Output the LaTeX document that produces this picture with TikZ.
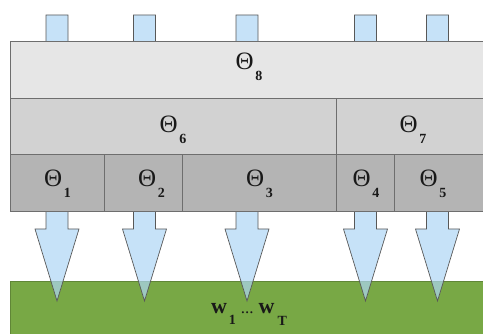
\documentclass[tikz,border=0pt]{standalone}
\usepackage{fontspec}
\setmainfont{Liberation Serif}
\usetikzlibrary{positioning}
\definecolor{lvA}{RGB}{230,230,230}
\definecolor{lvB}{RGB}{210,210,210}
\definecolor{lvC}{RGB}{180,180,180}
\definecolor{edgegray}{RGB}{110,110,110}
\definecolor{arrowblue}{RGB}{174,214,245}
\definecolor{leafgreen}{RGB}{120,168,69}
\definecolor{inkc}{RGB}{25,25,25}
\newcommand{\thlab}[1]{{\fontsize{25}{25}\selectfont Θ}\kern1.5pt\raisebox{-11pt}{\fontsize{14}{14}\selectfont\bfseries #1}}
\begin{document}
\begin{tikzpicture}[x=1pt,y=-1pt,
  blk/.style={draw=edgegray, line width=0.9pt, rectangle, inner sep=0pt},
  lab/.style={anchor=base, inner sep=0pt, text=inkc},
  arr/.style={draw=edgegray!80!black, line width=0.7pt, fill=arrowblue, fill opacity=0.7, line join=miter}]
\useasboundingbox (0,0) rectangle (483,334);
\clip (0,0) rectangle (483,334);
% green base
\node[blk, draw=leafgreen!80!black, fill=leafgreen, anchor=north west, minimum width=490pt, minimum height=60pt] (base) at (10,281) {};
% arrows
\foreach \cx/\nm in {57/a1,144.5/a2,247/a3,365.5/a4,437.5/a5}{
  \coordinate (\nm top) at (\cx,15);
  \coordinate (\nm tip) at (\cx,301);
  \draw[arr] ([xshift=-11pt]\nm top) -- ([xshift=11pt]\nm top) -- ([xshift=11pt]\nm top |- 0,229)
     -- ([xshift=22pt]\nm top |- 0,229) -- (\nm tip) -- ([xshift=-22pt]\nm top |- 0,229)
     -- ([xshift=-11pt]\nm top |- 0,229) -- cycle;
}
% boxes
\node[blk, fill=lvA, anchor=north west, minimum width=490pt, minimum height=57pt] (b8) at (10,41) {};
\node[blk, fill=lvB, anchor=north west, minimum width=326pt, minimum height=56pt] (b6) at (10,98) {};
\node[blk, fill=lvB, anchor=north west, minimum width=164pt, minimum height=56pt] (b7) at (336,98) {};
\node[blk, fill=lvC, anchor=north west, minimum width=94pt, minimum height=57pt] (b1) at (10,154) {};
\node[blk, fill=lvC, anchor=north west, minimum width=78pt, minimum height=57pt] (b2) at (104,154) {};
\node[blk, fill=lvC, anchor=north west, minimum width=154pt, minimum height=57pt] (b3) at (182,154) {};
\node[blk, fill=lvC, anchor=north west, minimum width=58pt, minimum height=57pt] (b4) at (336,154) {};
\node[blk, fill=lvC, anchor=north west, minimum width=106pt, minimum height=57pt] (b5) at (394,154) {};
% labels
\node[lab] (t8) at (249,70) {\thlab{8}};
\node[lab] (t6) at (173,133) {\thlab{6}};
\node[lab] (t7) at (413,133) {\thlab{7}};
\node[lab] (t1) at (57.5,187) {\thlab{1}};
\node[lab] (t2) at (151.5,187) {\thlab{2}};
\node[lab] (t3) at (259.5,187) {\thlab{3}};
\node[lab] (t4) at (366,187) {\thlab{4}};
\node[lab] (t5) at (433,187) {\thlab{5}};
\node[lab] (wl) at (249,314) {\fontsize{22}{22}\selectfont\bfseries w\kern2pt\raisebox{-11pt}{\fontsize{14}{14}\selectfont 1}\kern5pt{\fontsize{17}{17}\selectfont\mdseries ...}\kern5pt w\kern3pt\raisebox{-12pt}{\fontsize{14}{14}\selectfont T}};
\end{tikzpicture}
\end{document}
